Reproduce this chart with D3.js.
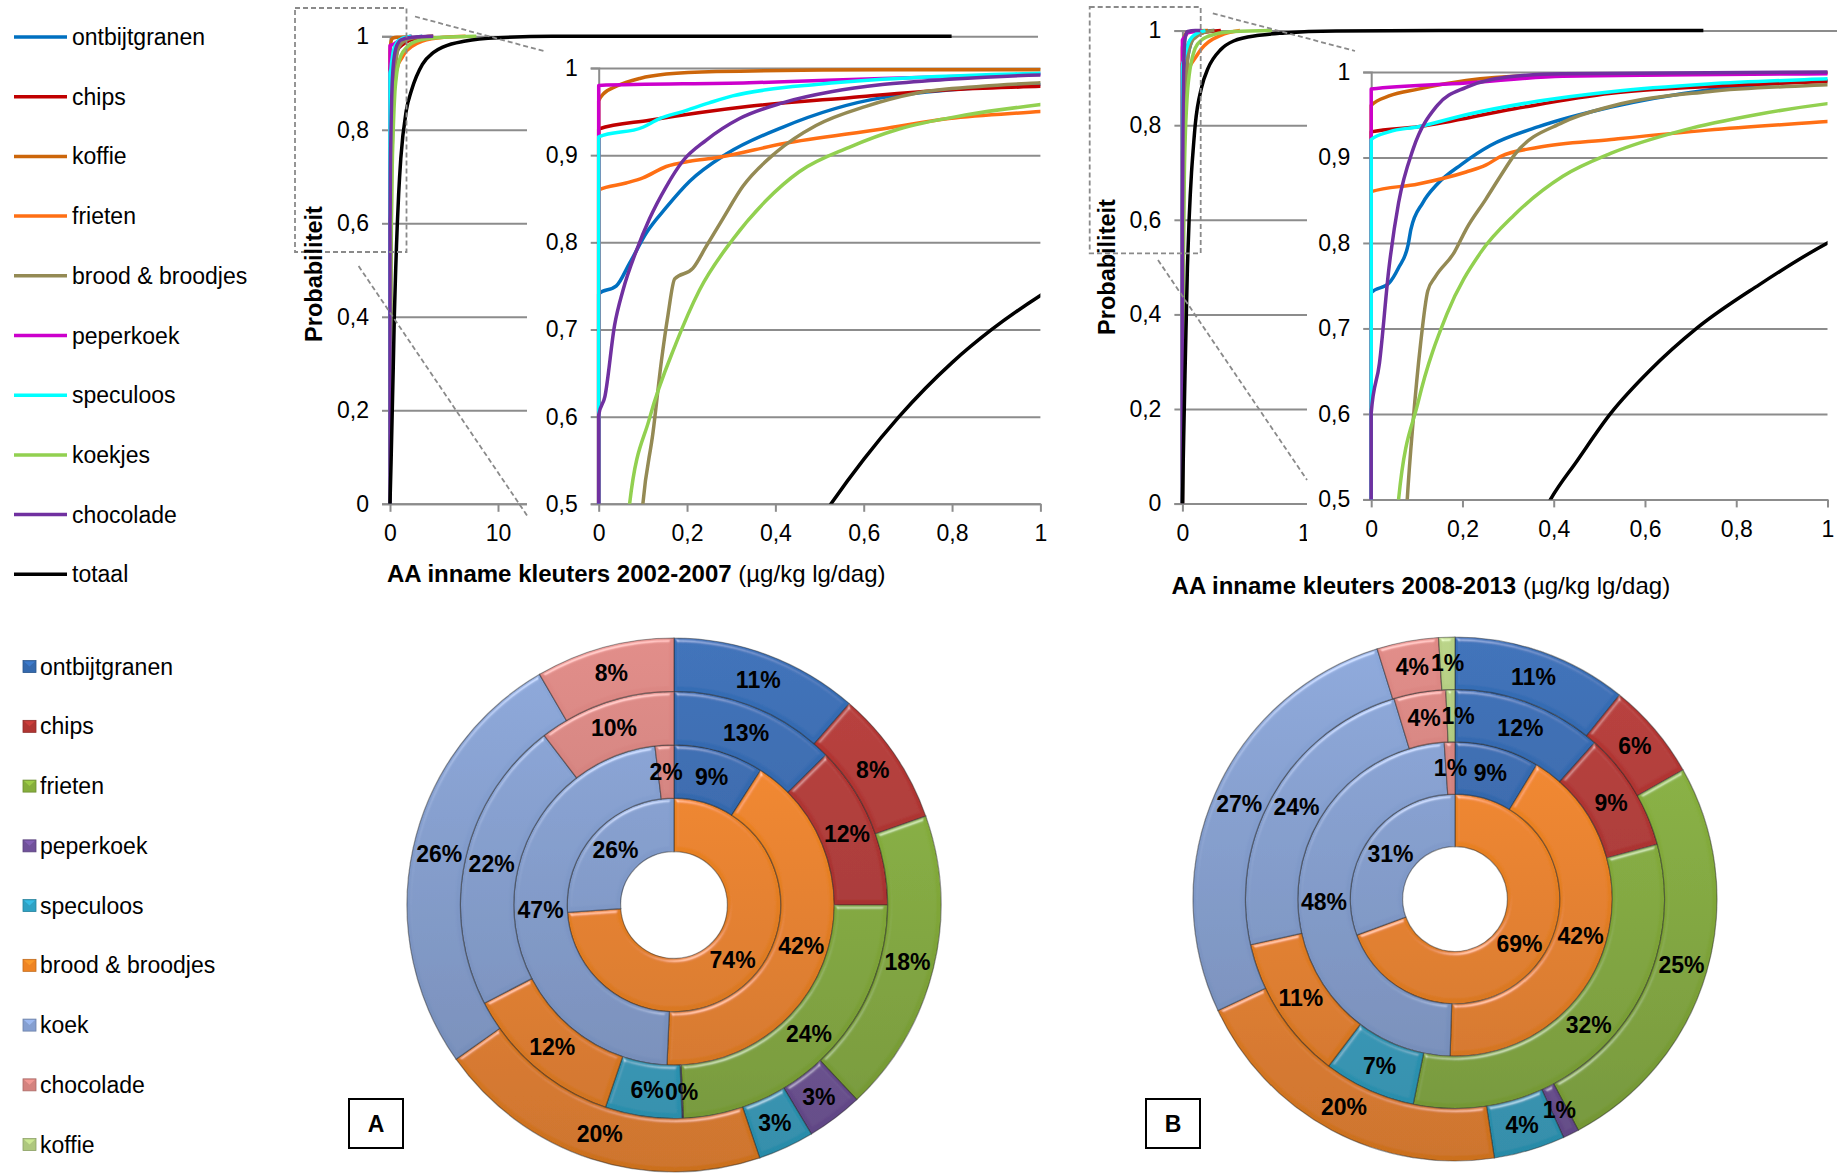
<!DOCTYPE html>
<html>
<head>
<meta charset="utf-8">
<script src="https://cdn.jsdelivr.net/npm/d3@7"></script>
<style>
  body { margin: 0; background: #fff; }
  text { font-family: "Liberation Sans", Arial, sans-serif; }
</style>
</head>
<body>
<svg id="chart" width="1837" height="1173"></svg>
<script>
// ---------- data: cumulative curves (x = µg/kg lg/dag, y = probabiliteit) ----------
var cdfNames = ["ontbijtgranen", "chips", "koffie", "frieten", "brood & broodjes",
  "peperkoek", "speculoos", "koekjes", "chocolade", "totaal"];

// 2002-2007
var a_ontbijtgranen = [[0,0],[0,0.741],[0.04,0.75],[0.07,0.776],[0.108,0.811],[0.153,0.84],[0.206,0.87],[0.288,0.901],[0.416,0.932],[0.642,0.966],[1,0.981],[1.5,0.99],[2,0.995],[3,1]];
var a_chips = [[0,0],[0,0.93],[0.115,0.94],[0.341,0.956],[0.567,0.966],[0.793,0.975],[1,0.979],[1.5,0.988],[2.5,0.996],[4,1]];
var a_koffie = [[0,0],[0,0.962],[0.01,0.97],[0.04,0.979],[0.093,0.988],[0.153,0.993],[0.266,0.996],[0.642,0.998],[1,0.998],[2,1]];
var a_frieten = [[0,0],[0,0.86],[0.062,0.868],[0.1,0.874],[0.153,0.887],[0.206,0.893],[0.266,0.897],[0.416,0.913],[0.642,0.93],[0.793,0.942],[1,0.95],[1.5,0.968],[2,0.978],[3,0.99],[5,0.998],[7,1]];
var a_brood = [[0,0],[0.05,0.15],[0.08,0.35],[0.1,0.5],[0.123,0.582],[0.142,0.664],[0.157,0.717],[0.172,0.758],[0.213,0.77],[0.243,0.795],[0.281,0.827],[0.326,0.864],[0.401,0.903],[0.492,0.934],[0.605,0.956],[0.718,0.971],[0.868,0.979],[1,0.983],[1.5,0.992],[2.5,0.998],[4,1]];
var a_peperkoek = [[0,0],[0,0.98],[0.341,0.983],[0.642,0.988],[1,0.993],[1.5,0.998],[2,1]];
var a_speculoos = [[0,0],[0,0.921],[0.1,0.932],[0.138,0.942],[0.19,0.95],[0.25,0.96],[0.303,0.968],[0.379,0.975],[0.492,0.981],[0.642,0.987],[1,0.994],[1.5,0.998],[2,1]];
var a_koekjes = [[0,0],[0.03,0.2],[0.05,0.35],[0.07,0.5],[0.115,0.598],[0.175,0.684],[0.228,0.745],[0.303,0.803],[0.379,0.848],[0.454,0.881],[0.567,0.909],[0.68,0.93],[0.83,0.946],[1,0.958],[1.5,0.975],[2,0.985],[3,0.993],[5,0.998],[8,1]];
var a_chocolade = [[0,0],[0,0.602],[0.014,0.623],[0.036,0.705],[0.055,0.745],[0.085,0.79],[0.115,0.827],[0.153,0.864],[0.19,0.893],[0.243,0.917],[0.319,0.942],[0.416,0.96],[0.529,0.973],[0.642,0.981],[0.793,0.987],[1,0.992],[2,0.998],[4,1]];
var a_totaal = [[0,0],[0.1,0.09],[0.2,0.19],[0.3,0.29],[0.4,0.4],[0.526,0.5],[0.6,0.551],[0.68,0.6],[0.8,0.662],[0.89,0.7],[1,0.739],[1.5,0.84],[2,0.885],[3,0.94],[4,0.965],[5,0.978],[7,0.99],[10,0.997],[15,1],[52,1]];

// 2008-2013
var b_ontbijtgranen = [[0,0],[0,0.742],[0.039,0.753],[0.06,0.771],[0.081,0.798],[0.087,0.816],[0.113,0.847],[0.145,0.869],[0.198,0.892],[0.261,0.914],[0.367,0.936],[0.526,0.959],[0.738,0.979],[1,0.99],[1.5,0.996],[2.5,1]];
var b_chips = [[0,0],[0,0.93],[0.103,0.936],[0.314,0.957],[0.526,0.975],[0.738,0.983],[1,0.989],[1.5,0.995],[3,1]];
var b_koffie = [[0,0],[0,0.961],[0.039,0.972],[0.103,0.98],[0.208,0.99],[0.367,0.996],[1,0.999],[2,1]];
var b_frieten = [[0,0],[0,0.86],[0.103,0.869],[0.208,0.883],[0.251,0.891],[0.283,0.901],[0.367,0.912],[0.526,0.921],[0.738,0.932],[1,0.942],[1.5,0.962],[2,0.975],[3,0.99],[4.5,1]];
var b_brood = [[0,0],[0.04,0.15],[0.065,0.35],[0.079,0.5],[0.092,0.592],[0.108,0.681],[0.124,0.744],[0.14,0.76],[0.182,0.789],[0.208,0.816],[0.251,0.851],[0.283,0.878],[0.314,0.903],[0.42,0.941],[0.526,0.96],[0.738,0.977],[1,0.985],[1.5,0.994],[2.5,1]];
var b_peperkoek = [[0,0],[0,0.98],[0.208,0.987],[0.42,0.995],[1,0.998],[1.5,1]];
var b_speculoos = [[0,0],[0,0.921],[0.039,0.93],[0.103,0.936],[0.208,0.95],[0.367,0.966],[0.526,0.977],[0.738,0.986],[1,0.992],[1.8,1]];
var b_koekjes = [[0,0],[0.025,0.2],[0.045,0.36],[0.06,0.5],[0.103,0.614],[0.166,0.717],[0.24,0.789],[0.314,0.833],[0.42,0.878],[0.526,0.905],[0.685,0.932],[0.843,0.95],[1,0.963],[1.5,0.98],[2.5,0.992],[4,0.998],[7,1]];
var b_chocolade = [[0,0],[0,0.601],[0.018,0.659],[0.039,0.771],[0.06,0.847],[0.092,0.91],[0.145,0.961],[0.208,0.982],[0.314,0.995],[0.42,0.998],[1,1],[1.4,1]];
var b_totaal = [[0,0],[0.1,0.14],[0.2,0.27],[0.3,0.39],[0.393,0.5],[0.451,0.545],[0.524,0.6],[0.611,0.651],[0.713,0.7],[0.85,0.751],[1,0.8],[1.5,0.88],[2,0.92],[3,0.96],[4,0.978],[6,0.99],[8,0.995],[12,0.999],[20,1],[40.7,1]];

var mainYTicks = [0, 0.2, 0.4, 0.6, 0.8, 1];
var insetYTicks = [0.5, 0.6, 0.7, 0.8, 0.9, 1];
var insetXTicks = [0, 0.2, 0.4, 0.6, 0.8, 1];
var mainXTicks = [0, 10];

// ---------- data: doughnut shares (%) per ring, inner -> outer ----------
var pieCats = ["ontbijtgranen", "chips", "frieten", "peperkoek", "speculoos",
  "brood & broodjes", "koek", "chocolade", "koffie"];
var ringA1 = [0, 0, 0, 0, 0, 73.9, 26.1, 0, 0];
var ringA2 = [9.1, 0, 0, 0, 0, 41.6, 47.4, 1.9, 0];
var ringA3 = [12.6, 12.4, 24.3, 0.1, 5.8, 12.2, 22.2, 10.4, 0];
var ringA4 = [11.4, 8.2, 18.4, 3.4, 3.4, 20.4, 26.4, 8.4, 0];
var ringB1 = [0, 0, 0, 0, 0, 69.4, 30.6, 0, 0];
var ringB2 = [8.7, 0, 0, 0, 0, 41.8, 48.4, 1.1, 0];
var ringB3 = [11.6, 9.2, 32.4, 0, 7.1, 11.2, 23.8, 4.0, 0.7];
var ringB4 = [10.8, 6.0, 25.4, 1.0, 4.4, 20.4, 27.2, 3.8, 1.0];

// ---------- styles ----------
var cdfColors = ["#0070C0", "#C00000", "#CC660A", "#FF6F14", "#948A54",
  "#CC00CC", "#00FFFF", "#92D050", "#7030A0", "#000000"];
var pieColors = ["#3469AE", "#B03532", "#86AE3C", "#70519A", "#2FA2C4",
  "#EE8424", "#859FD0", "#D4837F", "#AEC77E"];
var gridColor = "#8c8c8c";
var fs = 23;

var svg = d3.select("#chart");
var defs = svg.append("defs");

var fmt = function(d) { return d3.format("~g")(d).replace(".", ","); };

// bevel filter for the doughnut pieces
var bev = defs.append("filter").attr("id", "bevel")
  .attr("x", "-5%").attr("y", "-5%").attr("width", "110%").attr("height", "110%");
bev.append("feGaussianBlur").attr("in", "SourceAlpha").attr("stdDeviation", 2.2).attr("result", "blur");
var spec = bev.append("feSpecularLighting").attr("in", "blur").attr("surfaceScale", 3)
  .attr("specularConstant", 0.45).attr("specularExponent", 30)
  .attr("lighting-color", "#ffffff").attr("result", "spec");
spec.append("feDistantLight").attr("azimuth", 250).attr("elevation", 38);
bev.append("feComposite").attr("in", "spec").attr("in2", "SourceAlpha").attr("operator", "in").attr("result", "specIn");
bev.append("feComposite").attr("in", "SourceGraphic").attr("in2", "specIn")
  .attr("operator", "arithmetic").attr("k1", 0).attr("k2", 1).attr("k3", 0.8).attr("k4", 0);

// ---------- line legend ----------
var leg1 = svg.append("g");
cdfNames.forEach(function(n, i) {
  var yy = 37 + i * 59.7;
  leg1.append("line").attr("x1", 14).attr("x2", 67).attr("y1", yy).attr("y2", yy)
    .attr("stroke", cdfColors[i]).attr("stroke-width", 3.5);
  leg1.append("text").attr("x", 72).attr("y", yy).attr("dy", "0.35em")
    .style("font-size", fs + "px").text(n);
});

// ---------- CDF panels ----------
function drawAxes(g, x, y, xTicks, yTicks) {
  var xr = x.range();
  // gridlines
  g.append("g").attr("transform", "translate(" + xr[0] + ",0)")
    .call(d3.axisLeft(y).tickValues(yTicks).tickSize(-(xr[1] - xr[0])).tickFormat(""))
    .call(function(s) { s.select(".domain").remove(); s.selectAll("line").attr("stroke", gridColor).attr("stroke-width", 2); });
  // y tick marks + labels
  g.append("g").attr("transform", "translate(" + xr[0] + ",0)")
    .call(d3.axisLeft(y).tickValues(yTicks).tickSize(8).tickPadding(13).tickFormat(fmt))
    .call(function(s) {
      s.select(".domain").attr("stroke", gridColor).attr("stroke-width", 2);
      s.selectAll("line").attr("stroke", gridColor).attr("stroke-width", 2);
      s.selectAll("text").attr("fill", "#000").style("font-size", fs + "px").style("font-family", "Liberation Sans, Arial, sans-serif");
    });
  // x axis
  g.append("g").attr("transform", "translate(0," + y.range()[0] + ")")
    .call(d3.axisBottom(x).tickValues(xTicks).tickSize(8).tickSizeOuter(0).tickPadding(13).tickFormat(fmt))
    .call(function(s) {
      s.select(".domain").attr("stroke", gridColor).attr("stroke-width", 2);
      s.selectAll("line").attr("stroke", gridColor).attr("stroke-width", 2);
      s.selectAll("text").attr("fill", "#000").style("font-size", fs + "px").style("font-family", "Liberation Sans, Arial, sans-serif");
    });
}

function drawCurves(g, x, y, series, clipId) {
  var xr = x.range(), yr = y.range();
  defs.append("clipPath").attr("id", clipId).append("rect")
    .attr("x", xr[0] - 3).attr("y", yr[1] - 3)
    .attr("width", xr[1] - xr[0] + 3).attr("height", yr[0] - yr[1] + 3);
  var line = d3.line().x(function(d) { return x(d[0]); }).y(function(d) { return y(d[1]); })
    .curve(d3.curveMonotoneX);
  g.append("g").attr("clip-path", "url(#" + clipId + ")")
    .selectAll("path").data(series).enter().append("path")
    .attr("d", line).attr("fill", "none")
    .attr("stroke", function(d, i) { return cdfColors[i]; })
    .attr("stroke-width", 3.5).attr("stroke-linejoin", "round");
}

function cdfPanel(p) {
  var g = svg.append("g");
  var mx = d3.scaleLinear().domain(p.mainXDomain).range(p.mainX);
  var my = d3.scaleLinear().domain([0, 1]).range(p.mainY);
  drawAxes(g, mx, my, mainXTicks, mainYTicks);
  drawCurves(g, mx, my, p.series, "clipMain" + p.id);

  // inset (zoom of 0..1 x 0,5..1)
  var b = p.box;
  g.append("rect").attr("x", b[0]).attr("y", b[1]).attr("width", b[2] - b[0]).attr("height", b[3] - b[1])
    .attr("fill", "#fff");
  var ix = d3.scaleLinear().domain([0, 1]).range(p.insetX);
  var iy = d3.scaleLinear().domain([0.5, 1]).range(p.insetY);
  drawAxes(g, ix, iy, insetXTicks, insetYTicks);
  drawCurves(g, ix, iy, p.series, "clipInset" + p.id);

  // zoom marker
  var z = p.zoomBox;
  g.append("rect").attr("x", z[0]).attr("y", z[1]).attr("width", z[2] - z[0]).attr("height", z[3] - z[1])
    .attr("fill", "none").attr("stroke", "#8a8a8a").attr("stroke-width", 1.8).attr("stroke-dasharray", "5,3");
  p.links.forEach(function(l) {
    g.append("line").attr("x1", l[0]).attr("y1", l[1]).attr("x2", l[2]).attr("y2", l[3])
      .attr("stroke", "#8a8a8a").attr("stroke-width", 1.8).attr("stroke-dasharray", "5,3");
  });

  g.append("text").attr("transform", "translate(" + p.ylab[0] + "," + p.ylab[1] + ") rotate(-90)")
    .attr("text-anchor", "middle").attr("dy", "0.35em")
    .style("font-size", "23.5px").style("font-weight", "bold").text("Probabiliteit");

  var t = g.append("text").attr("x", p.title[0]).attr("y", p.title[1]).style("font-size", "24px");
  t.append("tspan").style("font-weight", "bold").text("AA inname kleuters " + p.period);
  t.append("tspan").text(" (µg/kg lg/dag)");
}

cdfPanel({
  id: "A", period: "2002-2007",
  series: [a_ontbijtgranen, a_chips, a_koffie, a_frieten, a_brood, a_peperkoek, a_speculoos, a_koekjes, a_chocolade, a_totaal],
  mainXDomain: [0, 60], mainX: [390, 1038], mainY: [503.8, 36.3],
  insetX: [598.7, 1040.4], insetY: [503.8, 68],
  box: [527, 51, 1062, 552],
  zoomBox: [295, 8, 406.5, 252],
  links: [[415, 16.5, 543.5, 51], [358.6, 266, 527, 515.5]],
  ylab: [314, 274], title: [387, 582]
});

cdfPanel({
  id: "B", period: "2008-2013",
  series: [b_ontbijtgranen, b_chips, b_koffie, b_frieten, b_brood, b_peperkoek, b_speculoos, b_koekjes, b_chocolade, b_totaal],
  mainXDomain: [0, 55], mainX: [1182.4, 1886.4], mainY: [503.6, 30.6],
  insetX: [1371.2, 1827.5], insetY: [499.4, 72],
  box: [1307, 51, 1837, 552],
  zoomBox: [1089.7, 7, 1200.7, 253.3],
  links: [[1212.8, 13.4, 1355, 51], [1158, 260, 1307, 480]],
  ylab: [1106.5, 267], title: [1171.6, 594]
});

// ---------- doughnut legend ----------
var leg2 = svg.append("g");
pieCats.forEach(function(n, i) {
  var yy = 666.6 + i * 59.75;
  leg2.append("rect").attr("x", 23).attr("y", yy - 6).attr("width", 13).attr("height", 12)
    .attr("fill", pieColors[i]).attr("stroke", d3.color(pieColors[i]).darker(0.6)).attr("stroke-width", 0.8);
  leg2.append("path").attr("d", "M" + 24 + "," + (yy - 5) + "l5.5,5l5.5,-5z")
    .attr("fill", d3.color(pieColors[i]).brighter(0.6)).attr("opacity", 0.7);
  leg2.append("text").attr("x", 40).attr("y", yy).attr("dy", "0.35em")
    .style("font-size", fs + "px").text(n);
});

// ---------- doughnuts ----------
function doughnut(id, cx, cy, R, rings) {
  var g = svg.append("g").attr("transform", "translate(" + cx + "," + cy + ")");
  pieColors.forEach(function(c, i) {
    var gr = defs.append("linearGradient").attr("id", "grad" + id + i)
      .attr("gradientUnits", "userSpaceOnUse").attr("x1", 0).attr("y1", -R).attr("x2", 0).attr("y2", R);
    gr.append("stop").attr("offset", 0).attr("stop-color", d3.color(c).brighter(0.15));
    gr.append("stop").attr("offset", 1).attr("stop-color", d3.color(c).darker(0.45));
  });
  var w = R * 0.8 / 4, hole = R * 0.2;
  var pie = d3.pie().sort(null).value(function(d) { return d; });
  rings.forEach(function(vals, k) {
    var r0 = hole + k * w, r1 = r0 + w;
    var arc = d3.arc().innerRadius(r0).outerRadius(r1);
    var total = d3.sum(vals);
    var arcs = pie(vals).filter(function(a) { return a.value > 0; });
    g.append("g").selectAll("path").data(arcs)
      .enter().append("path")
      .attr("d", arc)
      .attr("fill", function(a) { return "url(#grad" + id + a.index + ")"; })
      .attr("stroke", "rgba(30,30,30,0.45)").attr("stroke-width", 1.2)
      .attr("filter", "url(#bevel)");

    // label positions; nudge a label sideways if it runs into the previous one
    var pos = arcs.map(function(a) { return arc.centroid(a); });
    for (var i = 1; i < pos.length; i++) {
      var dx = pos[i][0] - pos[i - 1][0], dy = pos[i][1] - pos[i - 1][1];
      if (Math.abs(dy) < 22 && Math.abs(dx) < 34) {
        pos[i][0] = pos[i - 1][0] + (dx >= 0 ? 34 : -34);
      }
    }
    g.append("g").selectAll("text").data(arcs)
      .enter().append("text")
      .attr("transform", function(a, i) { return "translate(" + pos[i] + ")"; })
      .attr("text-anchor", "middle").attr("dy", "0.35em")
      .style("font-size", "23px").style("font-weight", "bold")
      .text(function(a) { return Math.round(a.value / total * 100) + "%"; });
  });
}

doughnut("A", 674, 905, 267, [ringA1, ringA2, ringA3, ringA4]);
doughnut("B", 1455, 899, 262, [ringB1, ringB2, ringB3, ringB4]);

// panel letters
[["A", 349], ["B", 1146]].forEach(function(l) {
  svg.append("rect").attr("x", l[1]).attr("y", 1099).attr("width", 54).attr("height", 49)
    .attr("fill", "#fff").attr("stroke", "#000").attr("stroke-width", 2);
  svg.append("text").attr("x", l[1] + 27).attr("y", 1123.5).attr("dy", "0.35em")
    .attr("text-anchor", "middle").style("font-size", "23px").style("font-weight", "bold").text(l[0]);
});
</script>
</body>
</html>
